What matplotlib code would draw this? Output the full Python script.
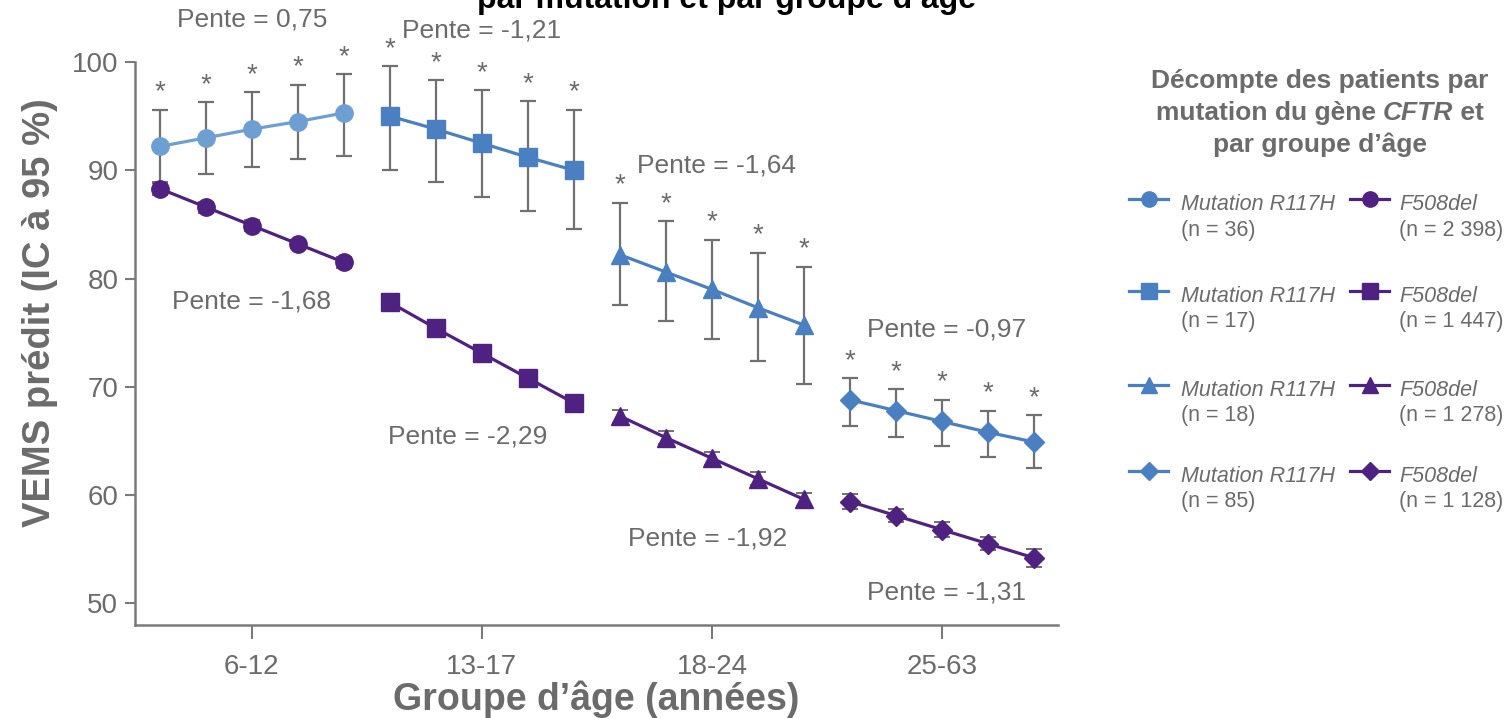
import numpy as np
import matplotlib
matplotlib.use("Agg")
import matplotlib.pyplot as plt
from matplotlib.lines import Line2D

plt.rcParams['font.family'] = ['Liberation Sans', 'DejaVu Sans']

# Données
groupes = ['6-12', '13-17', '18-24', '25-63']
marqueurs = ['o', 's', '^', 'D']

r117h_moy = [[92.2, 93.0, 93.8, 94.5, 95.3],
             [95.0, 93.8, 92.5, 91.2, 90.0],
             [82.2, 80.6, 79.0, 77.3, 75.7],
             [68.8, 67.8, 66.8, 65.8, 64.9]]
r117h_bas = [[88.8, 89.7, 90.3, 91.0, 91.3],
             [90.0, 88.9, 87.5, 86.2, 84.6],
             [77.6, 76.1, 74.4, 72.4, 70.3],
             [66.4, 65.4, 64.5, 63.5, 62.5]]
r117h_haut = [[95.6, 96.3, 97.2, 97.9, 98.9],
              [99.6, 98.3, 97.4, 96.4, 95.6],
              [87.0, 85.3, 83.6, 82.4, 81.1],
              [70.8, 69.8, 68.8, 67.8, 67.4]]

f508_moy = [[88.3, 86.6, 84.9, 83.2, 81.5],
            [77.8, 75.4, 73.1, 70.8, 68.5],
            [67.3, 65.3, 63.4, 61.5, 59.6],
            [59.4, 58.1, 56.8, 55.5, 54.2]]
f508_err = [[0.6, 0.5, 0.5, 0.4, 0.5],
            [0.4, 0.4, 0.3, 0.3, 0.3],
            [0.6, 0.6, 0.6, 0.6, 0.6],
            [0.7, 0.6, 0.7, 0.6, 0.8]]

pentes_r117h = ['0,75', '-1,21', '-1,64', '-0,97']
pentes_f508 = ['-1,68', '-2,29', '-1,92', '-1,31']
n_r117h = ['36', '17', '18', '85']
n_f508 = ['2 398', '1 447', '1 278', '1 128']

# positions des étiquettes "Pente" (x, y en unités des données)
pos_pente_r117h = [(2.0, 103.9), (7.0, 102.9), (12.1, 90.4), (17.1, 75.3)]
pos_pente_f508 = [(2.0, 77.9), (6.7, 65.4), (11.9, 56.0), (17.1, 51.0)]

bleu_clair = '#6e9fd3'
bleu = '#4a80c2'
violet = '#4f2180'
gris = '#6b6b6b'
gris_barre = '#707070'

W, H = 1511, 718
fig = plt.figure(figsize=(W / 100, H / 100), dpi=100)
ax = fig.add_axes([135 / W, 93 / H, (1058 - 135) / W, 1 - 93 / H])

for g in range(4):
    x = g * 5 + np.arange(5)
    c = bleu_clair if g == 0 else bleu
    moy = np.array(r117h_moy[g])
    err = [moy - np.array(r117h_bas[g]), np.array(r117h_haut[g]) - moy]
    ax.errorbar(x, moy, yerr=err, fmt='none', ecolor=gris_barre, elinewidth=1.6,
                capsize=5.5, capthick=1.6, zorder=2)
    ax.plot(x, moy, color=c, marker=marqueurs[g], lw=2.3,
            ms=12.5 if marqueurs[g] != 'D' else 10.5, zorder=3)
    for xi, hi in zip(x, r117h_haut[g]):
        ax.annotate('*', (xi, hi), xytext=(0, 3), textcoords='offset points',
                    ha='center', va='bottom', fontsize=20, color=gris)

    fm = np.array(f508_moy[g])
    ax.errorbar(x, fm, yerr=f508_err[g], fmt='none', ecolor=gris_barre, elinewidth=1.4,
                capsize=5.5, capthick=1.4, zorder=2)
    ax.plot(x, fm, color=violet, marker=marqueurs[g], lw=2.3,
            ms=12.5 if marqueurs[g] != 'D' else 10.5, zorder=3)

    px, py = pos_pente_r117h[g]
    ax.text(px, py, 'Pente = ' + pentes_r117h[g], ha='center', va='center',
            fontsize=19, color=gris)
    px, py = pos_pente_f508[g]
    ax.text(px, py, 'Pente = ' + pentes_f508[g], ha='center', va='center',
            fontsize=19, color=gris)

ax.set_xlim(-0.54, 19.52)
ax.set_ylim(48, 105.73)
ax.set_yticks([50, 60, 70, 80, 90, 100])
ax.set_xticks([2, 7, 12, 17])
ax.set_xticklabels(groupes)
ax.spines['top'].set_visible(False)
ax.spines['right'].set_visible(False)
ax.spines['left'].set_bounds(48, 100)
for s in ['left', 'bottom']:
    ax.spines[s].set_color('#7a7a7a')
    ax.spines[s].set_linewidth(1.8)
ax.tick_params(axis='y', length=7, width=1.5, color='#7a7a7a', labelsize=20,
               labelcolor=gris, pad=5)
ax.tick_params(axis='x', length=10, width=1.5, color='#7a7a7a', labelsize=20,
               labelcolor=gris, pad=11)
ax.set_ylabel('VEMS prédit (IC à 95 %)', fontsize=27.5, fontweight='bold',
              color=gris, labelpad=10)
ax.set_xlabel('Groupe d’âge (années)', fontsize=27, fontweight='bold',
              color=gris, labelpad=0)

# titre partiellement coupé en haut
fig.text(727 / W, 1 - 8 / H, 'par mutation et par groupe d’âge', ha='center',
         va='baseline', fontsize=23, fontweight='bold', color='black')

# légende
def fx(p):
    return p / W

def fy(p):
    return 1 - p / H

tkw = dict(fontsize=19, fontweight='bold', color=gris, va='center')
fig.text(fx(1320), fy(81), 'Décompte des patients par', ha='center', **tkw)
fig.text(fx(1320), fy(145), 'par groupe d’âge', ha='center', **tkw)
r = fig.canvas.get_renderer()
morceaux = [('mutation du gène ', 'normal'), ('CFTR', 'italic'), (' et', 'normal')]
objs = [fig.text(0, fy(113), t, style=st, ha='left', **tkw) for t, st in morceaux]
larg = [o.get_window_extent(r).width for o in objs]
x0 = 1320 - sum(larg) / 2
for o, w in zip(objs, larg):
    o.set_x(fx(x0))
    x0 += w

rangs_y = [199, 291, 385, 471]
for i in range(4):
    for (xa, xb, xt, nom, n, c) in [(1129, 1168, 1181, 'Mutation R117H', n_r117h[i], bleu),
                                    (1350, 1389, 1399, 'F508del', n_f508[i], violet)]:
        y = rangs_y[i]
        fig.add_artist(Line2D([fx(xa), fx(xb)], [fy(y), fy(y)], color=c, lw=2.3,
                              transform=fig.transFigure))
        fig.add_artist(Line2D([fx((xa + xb) / 2)], [fy(y)], color=c,
                              marker=marqueurs[i], ms=11 if i != 3 else 9, lw=0,
                              transform=fig.transFigure))
        fig.text(fx(xt), fy(y + 5), nom, style='italic', fontsize=15.5, color=gris,
                 va='center', ha='left')
        fig.text(fx(xt), fy(y + 31), '(n = ' + n + ')', fontsize=15.5, color=gris,
                 va='center', ha='left')

fig.savefig('out.png', dpi=100)
